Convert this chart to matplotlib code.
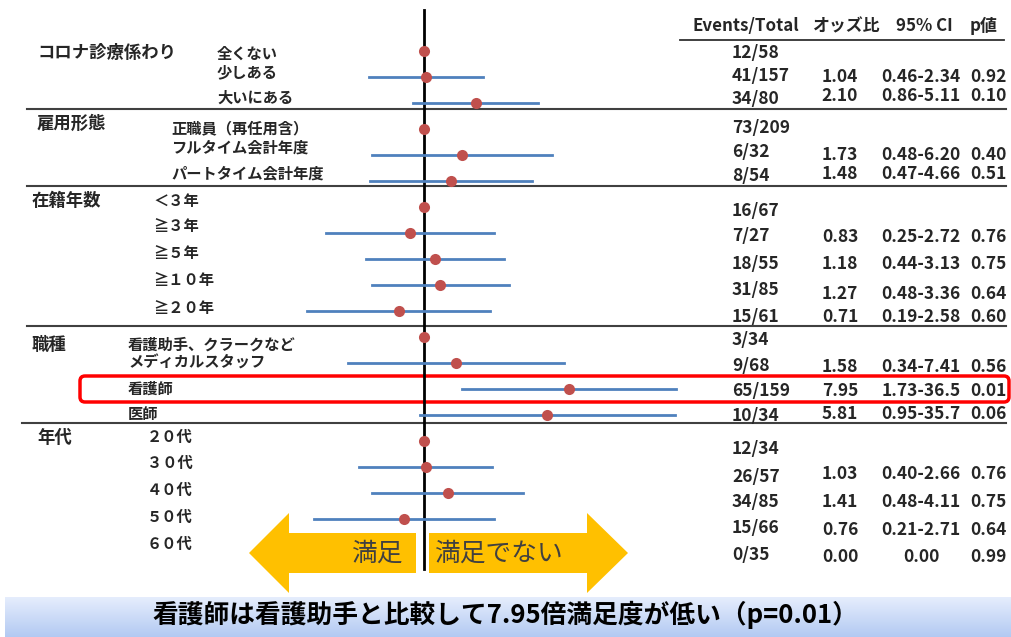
import numpy as np
import matplotlib
matplotlib.use("Agg")
import matplotlib.pyplot as plt
from matplotlib.patches import FancyBboxPatch, Polygon

plt.rcParams['font.family'] = ['Noto Sans CJK JP', 'DejaVu Sans']

# ---- data -------------------------------------------------------------
categories = ["コロナ診療係わり", "雇用形態", "在籍年数", "職種", "年代"]
group_sizes = [3, 3, 5, 4, 5]
subgroups = ["全くない", "少しある", "大いにある",
             "正職員（再任用含）", "フルタイム会計年度", "パートタイム会計年度",
             "＜３年", "≧３年", "≧５年", "≧１０年", "≧２０年",
             "看護助手、クラークなど", "メディカルスタッフ", "看護師", "医師",
             "２０代", "３０代", "４０代", "５０代", "６０代"]
events = [12, 41, 34, 73, 6, 8, 16, 7, 18, 31, 15, 3, 9, 65, 10, 12, 26, 34, 15, 0]
totals = [58, 157, 80, 209, 32, 54, 67, 27, 55, 85, 61, 34, 68, 159, 34, 34, 57, 85, 66, 35]
odds = [None, 1.04, 2.10, None, 1.73, 1.48, None, 0.83, 1.18, 1.27, 0.71,
        None, 1.58, 7.95, 5.81, None, 1.03, 1.41, 0.76, 0.00]
ci_low = [None, 0.46, 0.86, None, 0.48, 0.47, None, 0.25, 0.44, 0.48, 0.19,
          None, 0.34, 1.73, 0.95, None, 0.40, 0.48, 0.21, 0.00]
ci_high = [None, 2.34, 5.11, None, 6.20, 4.66, None, 2.72, 3.13, 3.36, 2.58,
           None, 7.41, 36.5, 35.7, None, 2.66, 4.11, 2.71, None]
p_values = [None, 0.92, 0.10, None, 0.40, 0.51, None, 0.76, 0.75, 0.64, 0.60,
            None, 0.56, 0.01, 0.06, None, 0.76, 0.75, 0.64, 0.99]
headers = ["Events/Total", "オッズ比", "95% CI", "p値"]
banner_text = "看護師は看護助手と比較して7.95倍満足度が低い（p=0.01）"
arrow_labels = ["満足", "満足でない"]

# ---- layout (pixel coordinates) ---------------------------------------
W, H = 1011, 637
row_y = [51 + 26 * i for i in range(len(subgroups))]
cat_x = [38, 37, 32, 32, 37]
cat_y = [53, 124, 201, 345, 438]
sub_x = [217, 171, 153, 128, 147]
sub_y = [54, 72, 98, 128, 147, 173, 201, 226, 253, 280, 308,
         345, 363, 389, 414, 437, 463, 490, 517, 544]
events_y = [53, 76, 99, 128, 152, 176, 211, 236, 264, 290, 317,
            340, 366, 391, 416, 449, 477, 502, 528, 555]
stats_y = [None, 77, 96, None, 155, 174, None, 237, 264, 294, 317,
           None, 367, 391, 414, None, 474, 502, 530, 557]
sep_y = [109, 186, 326, 423]
col_x = {"events": 732, "or": 840, "ci": 921, "p": 988}
header_x = [693, 847, 924, 984]
header_y = 26
px_per_ln = 70.3
ref_x = 423.5

TXT = "#262626"
DOT = "#C0504D"
CI_COL = "#4F81BD"
ARROW = "#FFC000"

fig = plt.figure(figsize=(W / 100, H / 100), dpi=100)

# text / decoration layer
ax = fig.add_axes([0, 0, 1, 1])
ax.set_xlim(0, W)
ax.set_ylim(H, 0)
ax.axis("off")

# forest layer: log-scaled odds ratio axis
axf = fig.add_axes([0, 0, 1, 1])
axf.set_xscale("log")
axf.set_xlim(np.exp(-ref_x / px_per_ln), np.exp((W - ref_x) / px_per_ln))
axf.set_ylim(H, 0)
axf.axis("off")
axf.patch.set_alpha(0)

# bottom banner with vertical gradient
grad = np.linspace(0, 1, 64)[:, None]
top_c = np.array([0.90, 0.93, 0.99])
bot_c = np.array([0.70, 0.79, 0.95])
img = top_c[None, None, :] * (1 - grad[:, :, None]) + bot_c[None, None, :] * grad[:, :, None]
ax.imshow(img, extent=[5, W, H, 597], aspect="auto", zorder=0)
ax.text(505, 615, banner_text, ha="center", va="center", fontsize=18.5,
        fontweight="bold", color="black", zorder=5)

# arrows
cy, head_h, body_h = 553, 40, 20
left_arrow = [(249, cy), (289, cy - head_h), (289, cy - body_h), (416, cy - body_h),
              (416, cy + body_h), (289, cy + body_h), (289, cy + head_h)]
right_arrow = [(628, cy), (587, cy - head_h), (587, cy - body_h), (429, cy - body_h),
               (429, cy + body_h), (587, cy + body_h), (587, cy + head_h)]
for pts in (left_arrow, right_arrow):
    ax.add_patch(Polygon(pts, closed=True, facecolor=ARROW, edgecolor="none", zorder=1))
ax.text(403, cy + 1, arrow_labels[0], ha="right", va="center", fontsize=18.5,
        color="#404040", zorder=2)
ax.text(434, cy + 1, arrow_labels[1], ha="left", va="center", fontsize=18.5,
        color="#404040", zorder=2)

# separators
ax.plot([680, 1004], [40, 40], color="#303030", lw=1.3)
for i, y in enumerate(sep_y):
    x0 = 22 if i == 3 else 27
    ax.plot([x0, 1006], [y, y], color="#404040", lw=1.5)

# highlight box around the nurse row
ax.add_patch(FancyBboxPatch((80, 376), 929, 26,
                            boxstyle="round,pad=0,rounding_size=5",
                            facecolor="none", edgecolor="red", lw=2.5, zorder=4))

# headers
ax.text(header_x[0], header_y, headers[0], ha="left", va="center",
        fontsize=12.2, fontweight="bold", color=TXT)
for hx, h in zip(header_x[1:], headers[1:]):
    ax.text(hx, header_y, h, ha="center", va="center", fontsize=12.2,
            fontweight="bold", color=TXT)

# category and subgroup labels
for c, x, y in zip(categories, cat_x, cat_y):
    ax.text(x, y, c, ha="left", va="center", fontsize=12.5, fontweight="bold", color=TXT)
gi = np.repeat(np.arange(len(group_sizes)), group_sizes)
for i, s in enumerate(subgroups):
    ax.text(sub_x[gi[i]], sub_y[i], s, ha="left", va="center", fontsize=11,
            fontweight="bold", color=TXT)


def fmt_ci(v):
    return f"{v:.2f}" if v < 10 else f"{v:.1f}"


# table values
for i in range(len(subgroups)):
    ax.text(col_x["events"], events_y[i], f"{events[i]}/{totals[i]}", ha="left",
            va="center", fontsize=12.5, fontweight="bold", color=TXT)
    if odds[i] is None:
        continue
    y = stats_y[i]
    ax.text(col_x["or"], y, f"{odds[i]:.2f}", ha="center", va="center",
            fontsize=12.5, fontweight="bold", color=TXT)
    ci_txt = fmt_ci(ci_low[i]) if ci_high[i] is None else f"{fmt_ci(ci_low[i])}-{fmt_ci(ci_high[i])}"
    ax.text(col_x["ci"], y, ci_txt, ha="center", va="center",
            fontsize=12.5, fontweight="bold", color=TXT)
    ax.text(col_x["p"], y, f"{p_values[i]:.2f}", ha="center", va="center",
            fontsize=12.5, fontweight="bold", color=TXT)

# forest plot marks
axf.plot([1, 1], [10, 569], color="black", lw=2, zorder=3)
for i in range(len(subgroups)):
    y = row_y[i]
    if odds[i] is None:
        axf.plot(1, y, "o", color=DOT, ms=8, mec="none", zorder=5)
        continue
    if odds[i] <= 0:
        continue
    axf.plot([ci_low[i], ci_high[i]], [y, y], color=CI_COL, lw=2, zorder=4)
    axf.plot(odds[i], y, "o", color=DOT, ms=8, mec="none", zorder=5)

fig.savefig("out.png", dpi=100)
